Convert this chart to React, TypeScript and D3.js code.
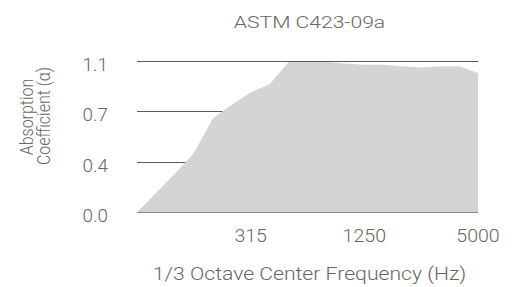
import { useEffect, useRef } from 'react';
import * as d3 from 'd3';

const bands = [
  '80', '100', '125', '160', '200', '250', '315', '400', '500', '630',
  '800', '1000', '1250', '1600', '2000', '2500', '3150', '4000', '5000',
];
const absorption = [
  0.0, 0.14, 0.28, 0.43, 0.68, 0.78, 0.87, 0.93, 1.09, 1.09,
  1.09, 1.08, 1.07, 1.07, 1.06, 1.05, 1.06, 1.06, 1.01,
];
const xTickLabels = ['315', '1250', '5000'];
const yTicks = [0, 1.1 / 3, 2.2 / 3, 1.1];

const WIDTH = 516;
const HEIGHT = 287;
const FONT = 'Roboto, "Liberation Sans", Arial, sans-serif';
const TEXT_COLOR = '#666666';

export default function App() {
  const svgRef = useRef<SVGSVGElement | null>(null);

  useEffect(() => {
    if (!svgRef.current) return;
    const svg = d3.select(svgRef.current);
    svg.selectAll('*').remove();

    const margin = { top: 60.7, right: 38, bottom: 74.7, left: 137 };
    const x = d3
      .scalePoint<string>()
      .domain(bands)
      .range([margin.left, WIDTH - margin.right]);
    const y = d3
      .scaleLinear()
      .domain([0, 1.1])
      .range([HEIGHT - margin.bottom, margin.top]);

    const data = bands.map((b, i) => ({ band: b, value: absorption[i] }));

    // grid lines behind the area
    svg
      .append('g')
      .selectAll('line')
      .data(yTicks)
      .join('line')
      .attr('x1', margin.left)
      .attr('x2', WIDTH - margin.right)
      .attr('y1', (d) => Math.round(y(d)) + 0.5)
      .attr('y2', (d) => Math.round(y(d)) + 0.5)
      .attr('stroke', '#5a5a5a')
      .attr('stroke-width', 1.2);

    const area = d3
      .area<{ band: string; value: number }>()
      .x((d) => x(d.band) as number)
      .y0(y(0))
      .y1((d) => y(d.value));

    svg
      .append('path')
      .datum(data)
      .attr('d', area)
      .attr('fill', '#d4d4d4');

    // baseline drawn over the fill
    svg
      .append('line')
      .attr('x1', margin.left)
      .attr('x2', WIDTH - margin.right)
      .attr('y1', Math.round(y(0)) + 0.5)
      .attr('y2', Math.round(y(0)) + 0.5)
      .attr('stroke', '#8a8a8a')
      .attr('stroke-width', 1.2);

    // text in the reference is a wide light face, so stretch a little
    const addText = (
      txt: string,
      tx: number,
      ty: number,
      size: number,
      stretch: number,
      anchor: string,
      rotate = 0,
    ) =>
      svg
        .append('text')
        .attr(
          'transform',
          `translate(${tx},${ty}) scale(${stretch},1)${rotate ? ` rotate(${rotate})` : ''}`,
        )
        .attr('text-anchor', anchor)
        .attr('font-family', FONT)
        .attr('font-weight', 300)
        .attr('font-size', size)
        .attr('fill', TEXT_COLOR)
        .text(txt);

    // y tick labels
    yTicks.forEach((t) => {
      addText(d3.format('.1f')(t), 108, Math.round(y(t)) + 9.5, 17.5, 1.08, 'end');
    });

    // x tick labels
    xTickLabels.forEach((b) => {
      addText(b, x(b) as number, 241.5, 17.5, 1.12, 'middle');
    });

    // titles
    const cx = (margin.left + WIDTH - margin.right) / 2 + 2;
    addText('ASTM C423-09a', cx, 27.7, 16.5, 1.28, 'middle');
    addText('1/3 Octave Center Frequency (Hz)', cx, 280, 17.5, 1.21, 'middle');
    addText('Absorption', 33, 117, 16, 1.1, 'middle', -90);
    addText('Coefficient (α)', 50, 116, 16, 1.1, 'middle', -90);
  }, []);

  return (
    <svg
      ref={svgRef}
      width={WIDTH}
      height={HEIGHT}
      style={{ position: 'absolute', left: 0, top: 0, background: '#fff' }}
    />
  );
}
